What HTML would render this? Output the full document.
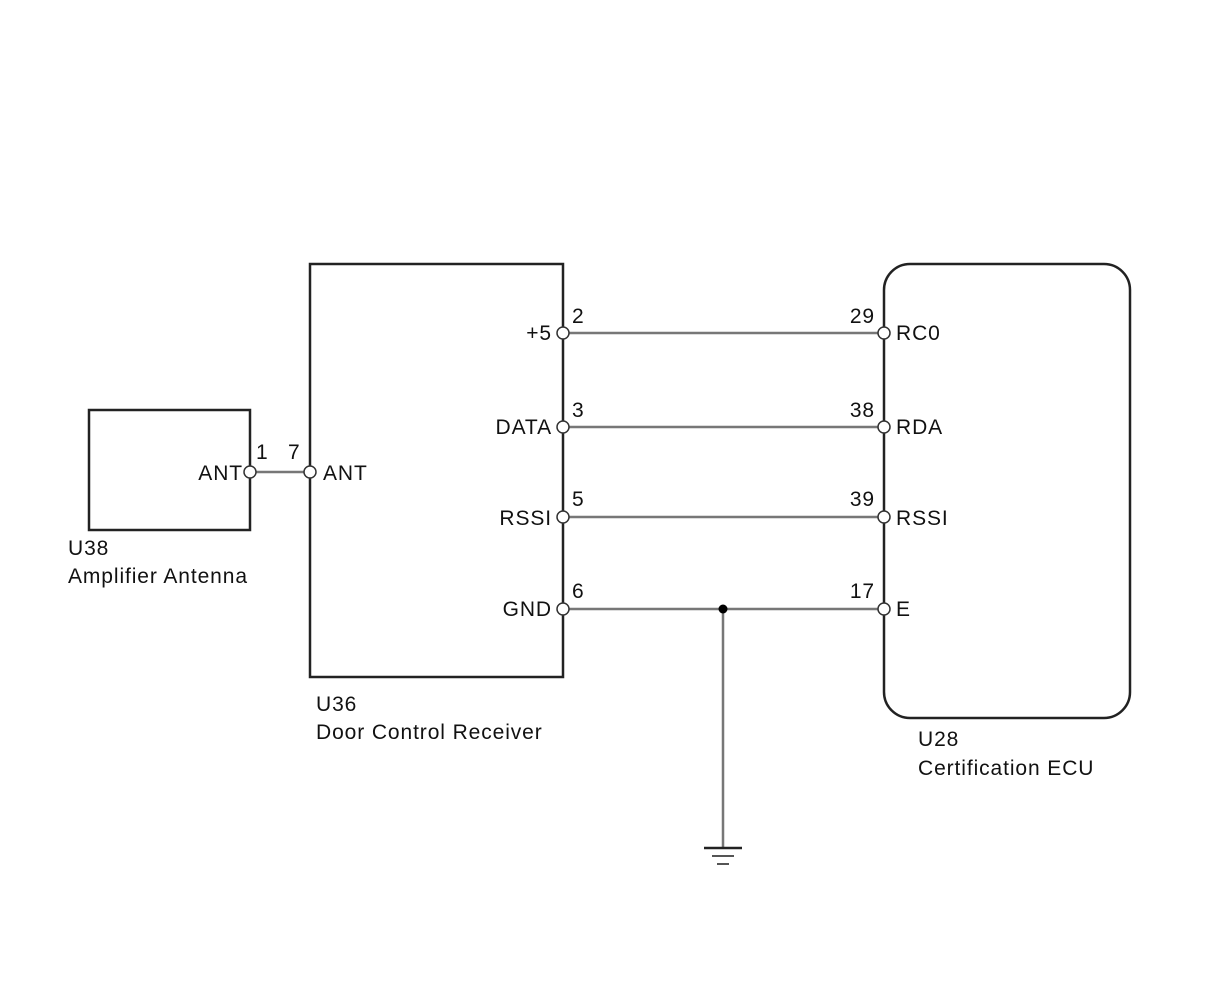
<!DOCTYPE html>
<html><head><style>body{margin:0;background:#fff}svg{display:block}text{font-family:"Liberation Sans",Arial,sans-serif;font-size:21px;letter-spacing:0.9px;fill:#111}</style></head><body>
<svg width="1210" height="986" viewBox="0 0 1210 986">
<g fill="none" stroke="#222" stroke-width="2.5">
<rect x="89" y="410" width="161" height="120"/>
<rect x="310" y="264" width="253" height="413"/>
<rect x="884" y="264" width="246" height="454" rx="26"/>
</g>
<g stroke="#777" stroke-width="2.5">
<line x1="250" y1="472" x2="310" y2="472"/>
<line x1="563" y1="333" x2="884" y2="333"/>
<line x1="563" y1="427" x2="884" y2="427"/>
<line x1="563" y1="517" x2="884" y2="517"/>
<line x1="563" y1="609" x2="884" y2="609"/>
<line x1="723" y1="609" x2="723" y2="848"/>
</g>
<circle cx="723" cy="609" r="4.5" fill="#000"/>
<g stroke="#222">
<line x1="704" y1="848" x2="742" y2="848" stroke-width="2.5"/>
<line x1="712" y1="856" x2="734" y2="856" stroke-width="2" stroke="#555"/>
<line x1="717" y1="864" x2="729" y2="864" stroke-width="2" stroke="#555"/>
</g>
<g fill="#fff" stroke="#333" stroke-width="1.5">
<circle cx="250" cy="472" r="6"/><circle cx="310" cy="472" r="6"/>
<circle cx="563" cy="333" r="6"/><circle cx="563" cy="427" r="6"/><circle cx="563" cy="517" r="6"/><circle cx="563" cy="609" r="6"/>
<circle cx="884" cy="333" r="6"/><circle cx="884" cy="427" r="6"/><circle cx="884" cy="517" r="6"/><circle cx="884" cy="609" r="6"/>
</g>
<text x="243" y="480" text-anchor="end">ANT</text>
<text x="256" y="459">1</text>
<text x="288" y="459">7</text>
<text x="323" y="480">ANT</text>
<text x="68" y="555">U38</text>
<text x="68" y="583">Amplifier Antenna</text>
<text x="552" y="340" text-anchor="end">+5</text>
<text x="552" y="434" text-anchor="end">DATA</text>
<text x="552" y="525" text-anchor="end">RSSI</text>
<text x="552" y="616" text-anchor="end">GND</text>
<text x="572" y="323">2</text><text x="572" y="417">3</text><text x="572" y="506">5</text><text x="572" y="598">6</text>
<text x="875" y="323" text-anchor="end">29</text><text x="875" y="417" text-anchor="end">38</text><text x="875" y="506" text-anchor="end">39</text><text x="875" y="598" text-anchor="end">17</text>
<text x="896" y="340">RC0</text><text x="896" y="434">RDA</text><text x="896" y="525">RSSI</text><text x="896" y="616">E</text>
<text x="316" y="711">U36</text>
<text x="316" y="739">Door Control Receiver</text>
<text x="918" y="746">U28</text>
<text x="918" y="775">Certification ECU</text>
</svg>
</body></html>
